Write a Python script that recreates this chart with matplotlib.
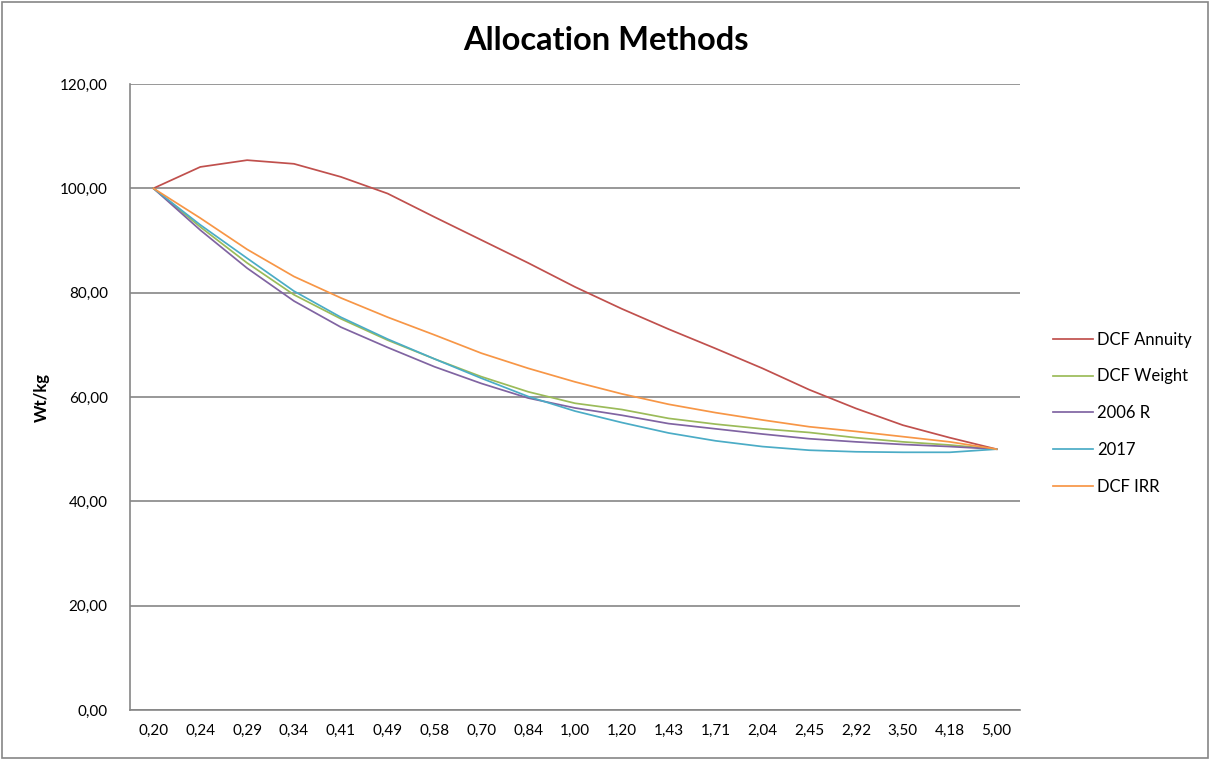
import matplotlib
matplotlib.use("Agg")
import matplotlib.pyplot as plt
from matplotlib.patches import Rectangle

categories = ["0,20", "0,24", "0,29", "0,34", "0,41", "0,49", "0,58", "0,70", "0,84", "1,00",
              "1,20", "1,43", "1,71", "2,04", "2,45", "2,92", "3,50", "4,18", "5,00"]

dcf_annuity = [100.0, 104.1, 105.4, 104.7, 102.2, 99.0, 94.5, 90.1, 85.7, 81.1,
               76.9, 73.0, 69.3, 65.5, 61.4, 57.8, 54.6, 52.2, 50.0]
dcf_weight = [100.0, 92.6, 85.7, 79.6, 75.0, 70.9, 67.3, 63.9, 61.0, 58.8,
              57.6, 55.9, 54.8, 53.9, 53.2, 52.2, 51.4, 50.8, 50.0]
r2006 = [100.0, 92.0, 84.7, 78.4, 73.4, 69.5, 65.8, 62.6, 59.8, 57.9,
         56.5, 54.9, 53.9, 52.9, 52.0, 51.4, 50.9, 50.5, 50.0]
y2017 = [100.0, 93.0, 86.6, 80.3, 75.3, 71.1, 67.3, 63.6, 60.1, 57.3,
         55.1, 53.1, 51.6, 50.5, 49.8, 49.5, 49.4, 49.4, 50.0]
dcf_irr = [100.0, 94.3, 88.3, 83.1, 79.0, 75.3, 71.9, 68.4, 65.5, 62.9,
           60.6, 58.6, 57.0, 55.6, 54.3, 53.4, 52.4, 51.4, 50.0]

series_names = ["DCF Annuity", "DCF Weight", "2006 R", "2017", "DCF IRR"]
series_values = [dcf_annuity, dcf_weight, r2006, y2017, dcf_irr]
colors = ["#C0504D", "#9BBB59", "#8064A2", "#4BACC6", "#F79646"]

yticks = [0, 20, 40, 60, 80, 100, 120]
ytick_labels = ["0,00", "20,00", "40,00", "60,00", "80,00", "100,00", "120,00"]

font = ["Lato", "DejaVu Sans"]
plt.rcParams["font.family"] = font

fig = plt.figure(figsize=(12.1, 7.6), dpi=100)
fig.patches.append(Rectangle((0.002, 0.003), 0.996, 0.994, transform=fig.transFigure,
                             fill=False, edgecolor="#868686", linewidth=1.2))

ax = fig.add_axes([130/1210, 1 - 710/760, (1020-130)/1210, (710-84)/760])
x = list(range(len(categories)))
for name, vals, c in zip(series_names, series_values, colors):
    ax.plot(x, vals, color=c, linewidth=1.25, label=name)

ax.set_xlim(-0.5, len(categories) - 0.5)
ax.set_ylim(0, 120)
ax.set_yticks(yticks)
ax.set_yticklabels(ytick_labels, fontsize=11)
ax.set_xticks(x)
ax.set_xticklabels(categories, fontsize=11)
ax.tick_params(length=0, pad=10)
ax.tick_params(axis="y", pad=16)
ax.grid(axis="y", color="#868686", linewidth=1.2)
ax.set_axisbelow(True)
for s in ["top", "right"]:
    ax.spines[s].set_visible(False)
for s in ["left", "bottom"]:
    ax.spines[s].set_color("#868686")
    ax.spines[s].set_linewidth(1.2)

fig.text(606/1210, 1 - 40/760, "Allocation Methods", fontsize=23.5, fontweight="bold",
         ha="center", va="center")
fig.text(42/1210, 1 - 398/760, "Wt/kg", fontsize=12, fontweight="bold",
         rotation=90, ha="center", va="center")

leg = ax.legend(loc="center left", bbox_to_anchor=(1.02, 0.474), frameon=False,
                fontsize=12, labelspacing=1.25, handlelength=2.4, handletextpad=0.25)

fig.savefig("out.png", dpi=100)
